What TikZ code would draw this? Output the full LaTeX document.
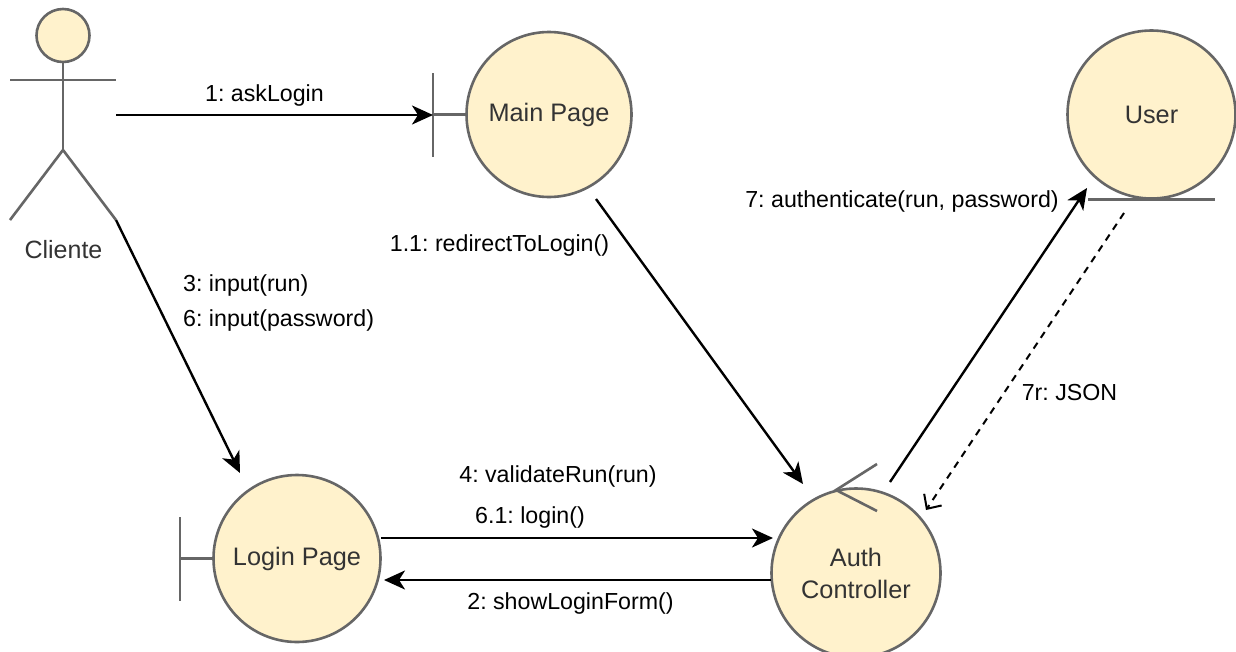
\documentclass[tikz,border=0pt]{standalone}
\usepackage{fontspec}
\setmainfont{Liberation Sans}
\usetikzlibrary{arrows.meta}
\definecolor{fillc}{HTML}{FFF2CC}
\definecolor{linec}{HTML}{666666}
\definecolor{textc}{HTML}{333333}
\tikzset{
  x=1pt,y=-1pt,
  obj/.style={circle,draw=linec,fill=fillc,line width=2.6pt,minimum size=#1,inner sep=0pt,align=center,text=textc,font=\fontsize{25.3}{32}\selectfont},
  glyph/.style={draw=linec,line width=2.6pt},
  msg/.style={draw=black,line width=2.4pt,-{Stealth[length=21pt,width=19pt,inset=6pt]}},
  ret/.style={draw=black,line width=2pt,dash pattern=on 7pt off 6pt,-{Straight Barb[length=11pt,width=21pt,line width=2pt]}},
  lbl/.style={font=\fontsize{23.2}{26}\selectfont,text=black,inner sep=0pt},
}
\begin{document}
\frenchspacing
\begin{tikzpicture}
\useasboundingbox (0,0) rectangle (1236,651);
\fill[white] (0,0) rectangle (1236,651);
% actor
\node[obj=53pt] (head) at (63,35.5) {};
\coordinate (hip) at (63,150);
\coordinate (armL) at (10,80);
\coordinate (armR) at (116,80);
\coordinate (legL) at (10,220);
\coordinate (legR) at (116,220);
\draw[glyph] (head.south) -- (hip);
\draw[glyph] (armL) -- (armR);
\draw[glyph] (legL) -- (hip) -- (legR);
\node[font=\fontsize{25}{30}\selectfont,text=textc,inner sep=0pt] (cliente) at (63.5,250) {Cliente};
% main page
\node[obj=165pt] (main) at (549,114.5) {\raisebox{-1.8pt}{Main Page}};
\coordinate (mainBT) at (433,73);
\coordinate (mainBB) at (433,157);
\coordinate (mainB) at (433,114.5);
\draw[glyph] (mainBT) -- (mainBB);
\draw[glyph] (mainB) -- (main.west);
% login page
\node[obj=167pt] (login) at (297,558.5) {\raisebox{-1.8pt}{Login Page}};
\coordinate (loginBT) at (180,517);
\coordinate (loginB) at (180,558.5);
\coordinate (loginBB) at (180,601);
\draw[glyph] (loginBT) -- (loginBB);
\draw[glyph] (loginB) -- (login.west);
% user
\node[obj=168pt] (user) at (1151.5,114.5) {\raisebox{-0.8pt}{User}};
\coordinate (userL) at (1088,199.5);
\coordinate (userR) at (1215,199.5);
\draw[glyph] (userL) -- (userR);
% auth controller
\node[obj=169pt] (auth) at (856,573) {Auth\\Controller};
\coordinate (ctlA) at (877,464);
\coordinate (ctlM) at (836,490);
\coordinate (ctlB) at (877,511);
\draw[glyph] (ctlA) -- (ctlM) -- (ctlB);
% connectors
\coordinate (s1) at (116,115);
\coordinate (e1) at (433,115);
\draw[msg] (s1) -- (e1);
\coordinate (e3) at (240,473);
\draw[msg] (legR) -- (e3);
\coordinate (s11) at (596,199);
\coordinate (e11) at (803,484);
\draw[msg] (s11) -- (e11);
\coordinate (s4) at (381,538);
\coordinate (e4) at (773,538);
\draw[msg] (s4) -- (e4);
\coordinate (s2) at (771,580);
\coordinate (e2) at (384,580);
\draw[msg] (s2) -- (e2);
\coordinate (s7) at (890,482);
\coordinate (e7) at (1087,188);
\draw[msg] (s7) -- (e7);
\coordinate (s7r) at (1124,213);
\coordinate (e7r) at (926,510);
\draw[ret] (s7r) -- (e7r);
% labels
\node[lbl] (l1) at (264.5,95) {1: askLogin};
\node[lbl] (l11) at (499.5,245.5) {1.1: redirectToLogin()};
\node[lbl,anchor=west] (l3) at (183,285.5) {3: input(run)};
\node[lbl,anchor=west] (l6) at (183,320.5) {6: input(password)};
\node[lbl] (l4) at (558,476.5) {4: validateRun(run)};
\node[lbl] (l61) at (530,517.5) {6.1: login()};
\node[lbl] (l2) at (570.5,603.5) {2: showLoginForm()};
\node[lbl] (l7) at (902,201.5) {7: authenticate(run, password)};
\node[lbl] (l7r) at (1069.5,393) {7r: JSON};
\end{tikzpicture}
\end{document}
